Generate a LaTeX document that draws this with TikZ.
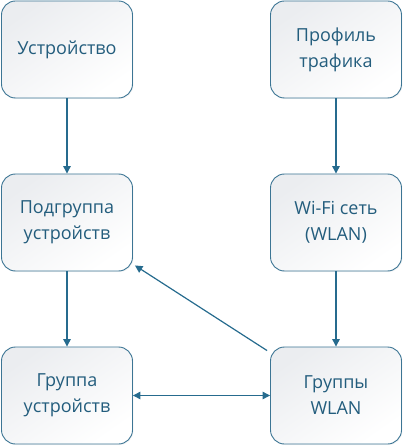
\documentclass[tikz,border=0pt]{standalone}
\usepackage{fontspec}
\setmainfont{Open Sans}
\usetikzlibrary{arrows.meta,shadows,calc}
\definecolor{txt}{HTML}{235D7D}
\definecolor{bord}{HTML}{3C7594}
\definecolor{arr}{HTML}{266B8E}
\definecolor{fillA}{HTML}{EBEDF0}
\tikzset{
  box/.style={draw=bord, line width=0.9pt, rounded corners=14pt,
    minimum width=131pt, minimum height=97pt, align=center,
    top color=fillA, bottom color=white, middle color=white!50!fillA, shading angle=35,
    text=txt, font=\fontsize{18}{26}\selectfont,
    drop shadow={shadow xshift=1pt, shadow yshift=-1pt, opacity=0.08}},
  conn/.style={draw=arr, line width=1.2pt, -{Triangle[length=7.5pt,width=7.5pt]}},
  conn2/.style={draw=arr, line width=1.2pt, {Triangle[length=7.5pt,width=7.5pt]}-{Triangle[length=7.5pt,width=7.5pt]}}
}
\begin{document}
\begin{tikzpicture}[x=1pt,y=-1pt]
\useasboundingbox (0,0) rectangle (403,446);
\node[box] (dev) at (67,49.5) {Устройство};
\node[box] (prof) at (336,49.5) {Профиль\\трафика};
\node[box] (sub) at (67,222.5) {Подгруппа\\устройств};
\node[box] (wifi) at (336,222.5) {Wi-Fi сеть\\(WLAN)};
\node[box] (grp) at (67,395.5) {Группа\\устройств};
\node[box] (wgrp) at (336,395.5) {Группы\\WLAN};
\draw[conn] (dev) -- (sub);
\draw[conn] (prof) -- (wifi);
\draw[conn] (sub) -- (grp);
\draw[conn] (wifi) -- (wgrp);
\draw[conn2] (grp) -- (wgrp);
\draw[conn] ($(wgrp.north west)+(-3,4)$) coordinate (a) -- ($(sub.south east)+(2,-6)$);
\end{tikzpicture}
\end{document}
